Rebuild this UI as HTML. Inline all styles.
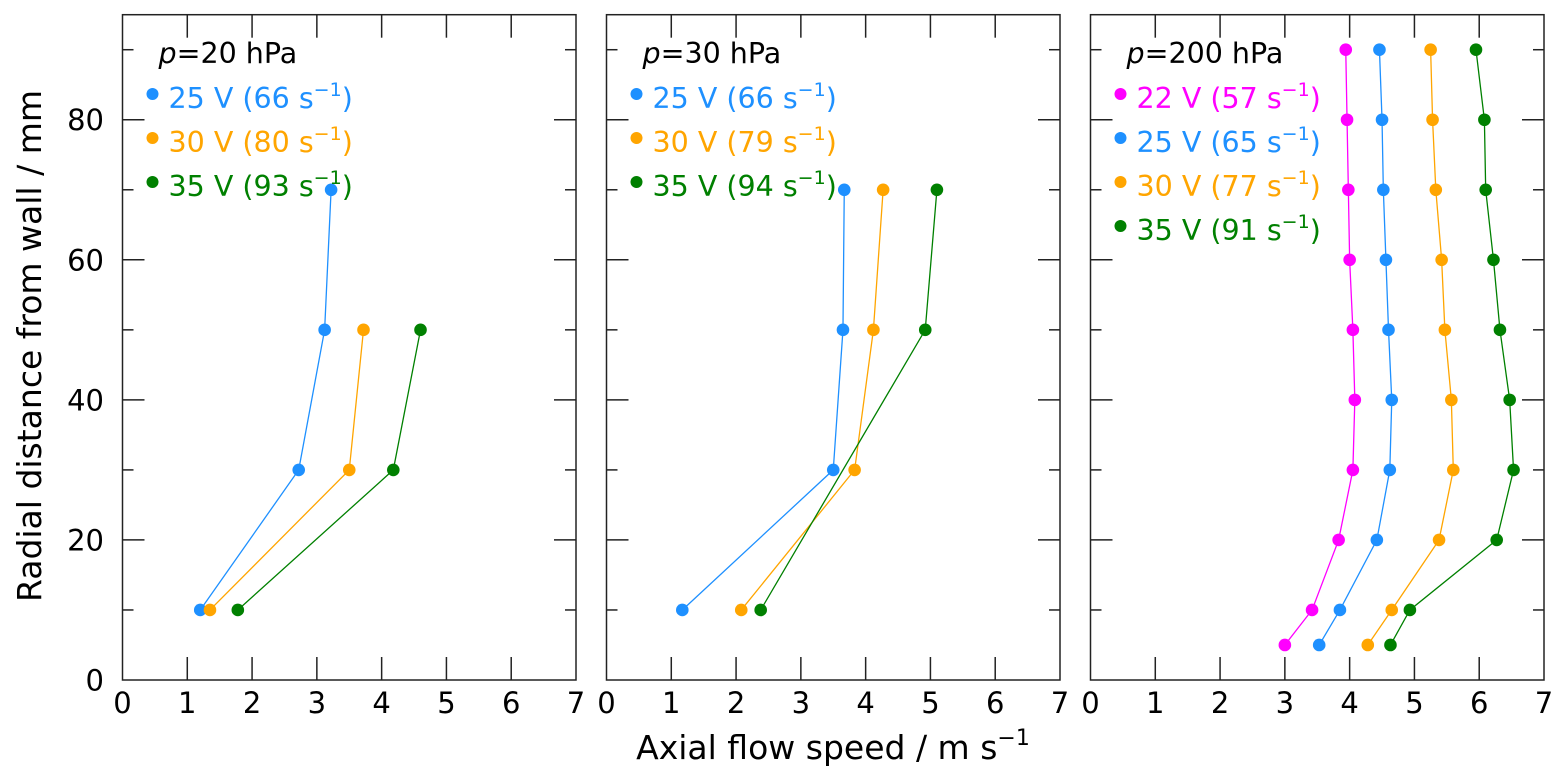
<!DOCTYPE html>
<html><head><meta charset="utf-8"><style>
body{margin:0;background:#fff}
svg{display:block;font-family:"DejaVu Sans","Liberation Sans",sans-serif}
</style></head><body>
<svg id="c" width="1566" height="781" viewBox="0 0 1566 781" xmlns="http://www.w3.org/2000/svg"></svg>
<script>
const panelLefts=[122.5,606.5,1090.5];
const yLevels20=[10,30,50,70];
const blue20=[1.2,2.72,3.12,3.22];
const orange20y=[10,30,50];
const orange20=[1.35,3.5,3.72];
const green20y=[10,30,50];
const green20=[1.78,4.18,4.6];
const blue30y=[10,30,50,70];
const blue30=[1.17,3.5,3.65,3.67];
const orange30y=[10,30,50,70];
const orange30=[2.08,3.83,4.12,4.27];
const green30y=[10,50,70];
const green30=[2.38,4.92,5.1];
const y200=[5,10,20,30,40,50,60,70,80,90];
const magenta200=[3.0,3.42,3.83,4.05,4.08,4.05,4.0,3.98,3.96,3.94];
const blue200=[3.53,3.85,4.42,4.62,4.65,4.6,4.56,4.52,4.5,4.46];
const orange200=[4.28,4.65,5.38,5.6,5.57,5.47,5.42,5.33,5.28,5.25];
const green200=[4.63,4.93,6.27,6.53,6.47,6.32,6.22,6.1,6.08,5.95];
const xTicks=[0,1,2,3,4,5,6,7];
const yTicks=[0,20,40,60,80];
const titles=["20","30","200"];
const legends=[
 [["25 V (66 s","#1e90ff"],["30 V (80 s","#ffa500"],["35 V (93 s","#008000"]],
 [["25 V (66 s","#1e90ff"],["30 V (79 s","#ffa500"],["35 V (94 s","#008000"]],
 [["22 V (57 s","#ff00ff"],["25 V (65 s","#1e90ff"],["30 V (77 s","#ffa500"],["35 V (91 s","#008000"]]
];
const series=[
 [[blue20,yLevels20,"#1e90ff","blue-25v"],[orange20,orange20y,"#ffa500","orange-30v"],[green20,green20y,"#008000","green-35v"]],
 [[blue30,blue30y,"#1e90ff","blue-25v"],[orange30,orange30y,"#ffa500","orange-30v"],[green30,green30y,"#008000","green-35v"]],
 [[magenta200,y200,"#ff00ff","magenta-22v"],[blue200,y200,"#1e90ff","blue-25v"],[orange200,y200,"#ffa500","orange-30v"],[green200,y200,"#008000","green-35v"]]
];
const W=453.5, TOP=14.7, BOT=680, XMAX=7, YMAX=95;
const svg=document.getElementById('c');
const NS="http://www.w3.org/2000/svg";
function mk(t,a,p){const e=document.createElementNS(NS,t);for(const k in a)e.setAttribute(k,a[k]);(p||svg).appendChild(e);return e;}
const yS=v=>BOT-(BOT-TOP)*v/YMAX;
panelLefts.forEach((L,pi)=>{
 const xS=v=>L+W*v/XMAX;
 const g=mk('g',{});
 
 
 xTicks.forEach(t=>{
  if(t>0&&t<7){
   mk('line',{x1:xS(t),x2:xS(t),y1:BOT,y2:BOT-23,stroke:'#222','stroke-width':1.5},g);
   mk('line',{x1:xS(t),x2:xS(t),y1:TOP,y2:TOP+23,stroke:'#222','stroke-width':1.5},g);
  }
  const tx=mk('text',{x:xS(t),y:713,'font-size':29,'text-anchor':'middle',fill:'#000'},g);
  tx.textContent=t;
  
  
 });
 for(let v=10;v<=90;v+=10){
  const len=(v%20===0)?22:11;
  mk('line',{x1:L,x2:L+len,y1:yS(v),y2:yS(v),stroke:'#222','stroke-width':1.5},g);
  mk('line',{x1:L+W,x2:L+W-len,y1:yS(v),y2:yS(v),stroke:'#222','stroke-width':1.5},g);
 }
 mk('rect',{x:L,y:TOP,width:W,height:BOT-TOP,fill:'none',stroke:'#222','stroke-width':1.5},g);
 series[pi].forEach(s=>{
  const [xs,ys,col,nm]=s;
  const pts=xs.map((x,i)=>xS(x)+','+yS(ys[i])).join(' ');
  const pl=mk('polyline',{points:pts,fill:'none',stroke:col,'stroke-width':1.3},g);
  
  
  xs.forEach((x,i)=>{
   const c=mk('circle',{cx:xS(x),cy:yS(ys[i]),r:6.3,fill:col},g);
   
   
  });
 });
 const tt=mk('text',{x:L+36,y:63,'font-size':28.5,fill:'#000'},g);
 tt.innerHTML='<tspan font-style="italic">p</tspan>='+titles[pi]+' hPa';
 
 
 legends[pi].forEach((e,i)=>{
  const by=108+i*44;
  const c=mk('circle',{cx:L+30,cy:by-14,r:6,fill:e[1]},g);
  
  
  const t=mk('text',{x:L+46,y:by,'font-size':28.5,fill:e[1]},g);
  t.innerHTML=e[0]+'<tspan font-size="19" dy="-12">−1</tspan><tspan dy="12">)</tspan>';
  
  
 });
});
yTicks.forEach(v=>{
 const t=mk('text',{x:104,y:yS(v)+10.5,'font-size':29,'text-anchor':'end',fill:'#000'});
 t.textContent=v;
 
 
});
const xl=mk('text',{x:833,y:759,'font-size':33,'text-anchor':'middle',fill:'#000'});
xl.innerHTML='Axial flow speed / m s<tspan font-size="22" dy="-14">−1</tspan>';


const yl=mk('text',{x:0,y:0,'font-size':33,'text-anchor':'middle',fill:'#000',transform:'translate(41,346) rotate(-90)'});
yl.textContent='Radial distance from wall / mm';


</script>
</body></html>
